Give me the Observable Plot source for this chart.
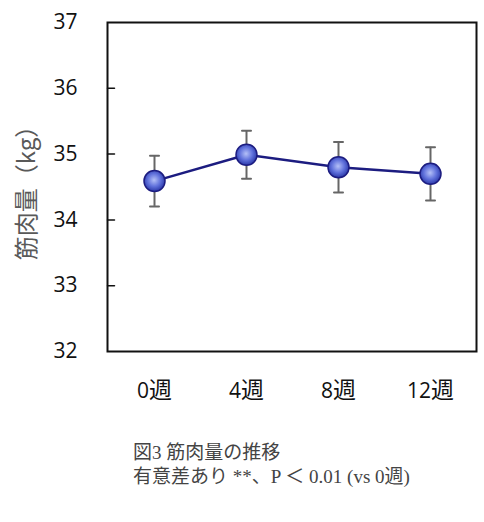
<!DOCTYPE html>
<html>
<head>
<meta charset="utf-8">
<script src="https://cdn.jsdelivr.net/npm/d3@7"></script>
<script src="https://cdn.jsdelivr.net/npm/@observablehq/plot@0.6"></script>
<style>
  html, body { margin: 0; padding: 0; background: #fff; }
  #chart svg { display: block; }
  #caption {
    margin-top: 31px;
    padding-left: 133px;
    font-family: "Liberation Serif", "Noto Sans CJK JP", serif;
    font-size: 19px;
    line-height: 24px;
    color: #444;
  }
</style>
</head>
<body>
<div id="chart"></div>
<div id="caption"><div>図3 筋肉量の推移</div><div>有意差あり **、P ＜ 0.01 (vs 0週)</div></div>
<script>
const weeks = ["0週", "4週", "8週", "12週"];
const means = [34.59, 34.99, 34.80, 34.70];
const errs = [0.385, 0.365, 0.385, 0.405];
const yTicks = [32, 33, 34, 35, 36, 37];
const innerTicks = [33, 34, 35, 36];
const yLabel = "筋肉量（kg）";

const data = weeks.map((w, i) => ({week: w, mean: means[i], lo: means[i] - errs[i], hi: means[i] + errs[i]}));
const lineShape = {draw(context, l) { context.moveTo(0, 0); context.lineTo(0, -l); }};

const chart = Plot.plot({
  width: 484,
  height: 410,
  marginLeft: 107,
  marginRight: 8,
  marginTop: 22,
  marginBottom: 59,
  style: {fontFamily: "'Open Sans', sans-serif", fontSize: "21px", color: "#111", background: "#fff"},
  x: {type: "point", domain: weeks, padding: 0.5},
  y: {domain: [32, 37]},
  marks: [
    Plot.axisY({ticks: yTicks, tickSize: 0, tickPadding: 30, tickFormat: d => d, fontSize: 21, fontFamily: "'Open Sans', sans-serif", fill: "#111", label: null}),
    Plot.axisY({ticks: [], label: yLabel, labelAnchor: "center", labelOffset: 90, labelArrow: "none", fontSize: 24, fill: "#595959"}),
    Plot.axisX({tickSize: 0, tickPadding: 32, fontSize: 21, fontFamily: "'Open Sans', sans-serif", fill: "#111", label: null}),
    Plot.vector(innerTicks, {y: d => d, frameAnchor: "left", rotate: 90, anchor: "start", length: 7, shape: lineShape, stroke: "#111", strokeWidth: 1.5}),
    Plot.ruleX(data, {x: "week", y1: "lo", y2: "hi", stroke: "#666", strokeWidth: 2}),
    Plot.vector(data, {x: "week", y: "hi", rotate: 90, anchor: "middle", length: 9, shape: lineShape, stroke: "#666", strokeWidth: 2}),
    Plot.vector(data, {x: "week", y: "lo", rotate: 90, anchor: "middle", length: 9, shape: lineShape, stroke: "#666", strokeWidth: 2}),
    Plot.line(data, {x: "week", y: "mean", stroke: "#1c1c80", strokeWidth: 2.5}),
    Plot.dot(data, {x: "week", y: "mean", r: 10.5, fill: "url(#ball)", stroke: "#1c1c80", strokeWidth: 1.5}),
    Plot.frame({stroke: "#111", strokeWidth: 2})
  ]
});

const svg = d3.select(chart);
svg.insert("defs", ":first-child").html(
  '<radialGradient id="ball" cx="48%" cy="45%" r="55%">' +
  '<stop offset="0%" stop-color="#b4c0f7"/>' +
  '<stop offset="55%" stop-color="#6172dc"/>' +
  '<stop offset="100%" stop-color="#2a38a8"/>' +
  '</radialGradient>'
);
svg.selectAll("text").each(function() {
  const t = d3.select(this);
  const s = t.text();
  if (s === yLabel) {
    t.style("font-family", "'Noto Sans CJK JP', sans-serif").style("font-size", "24px").style("fill", "#595959");
  } else if (weeks.includes(s)) {
    const num = s.replace("週", "");
    t.text(null);
    t.append("tspan").text(num);
    t.append("tspan").style("font-family", "'Noto Sans CJK JP', sans-serif").style("font-size", "23px").text("週");
  }
});
document.getElementById("chart").appendChild(chart);
</script>
</body>
</html>
